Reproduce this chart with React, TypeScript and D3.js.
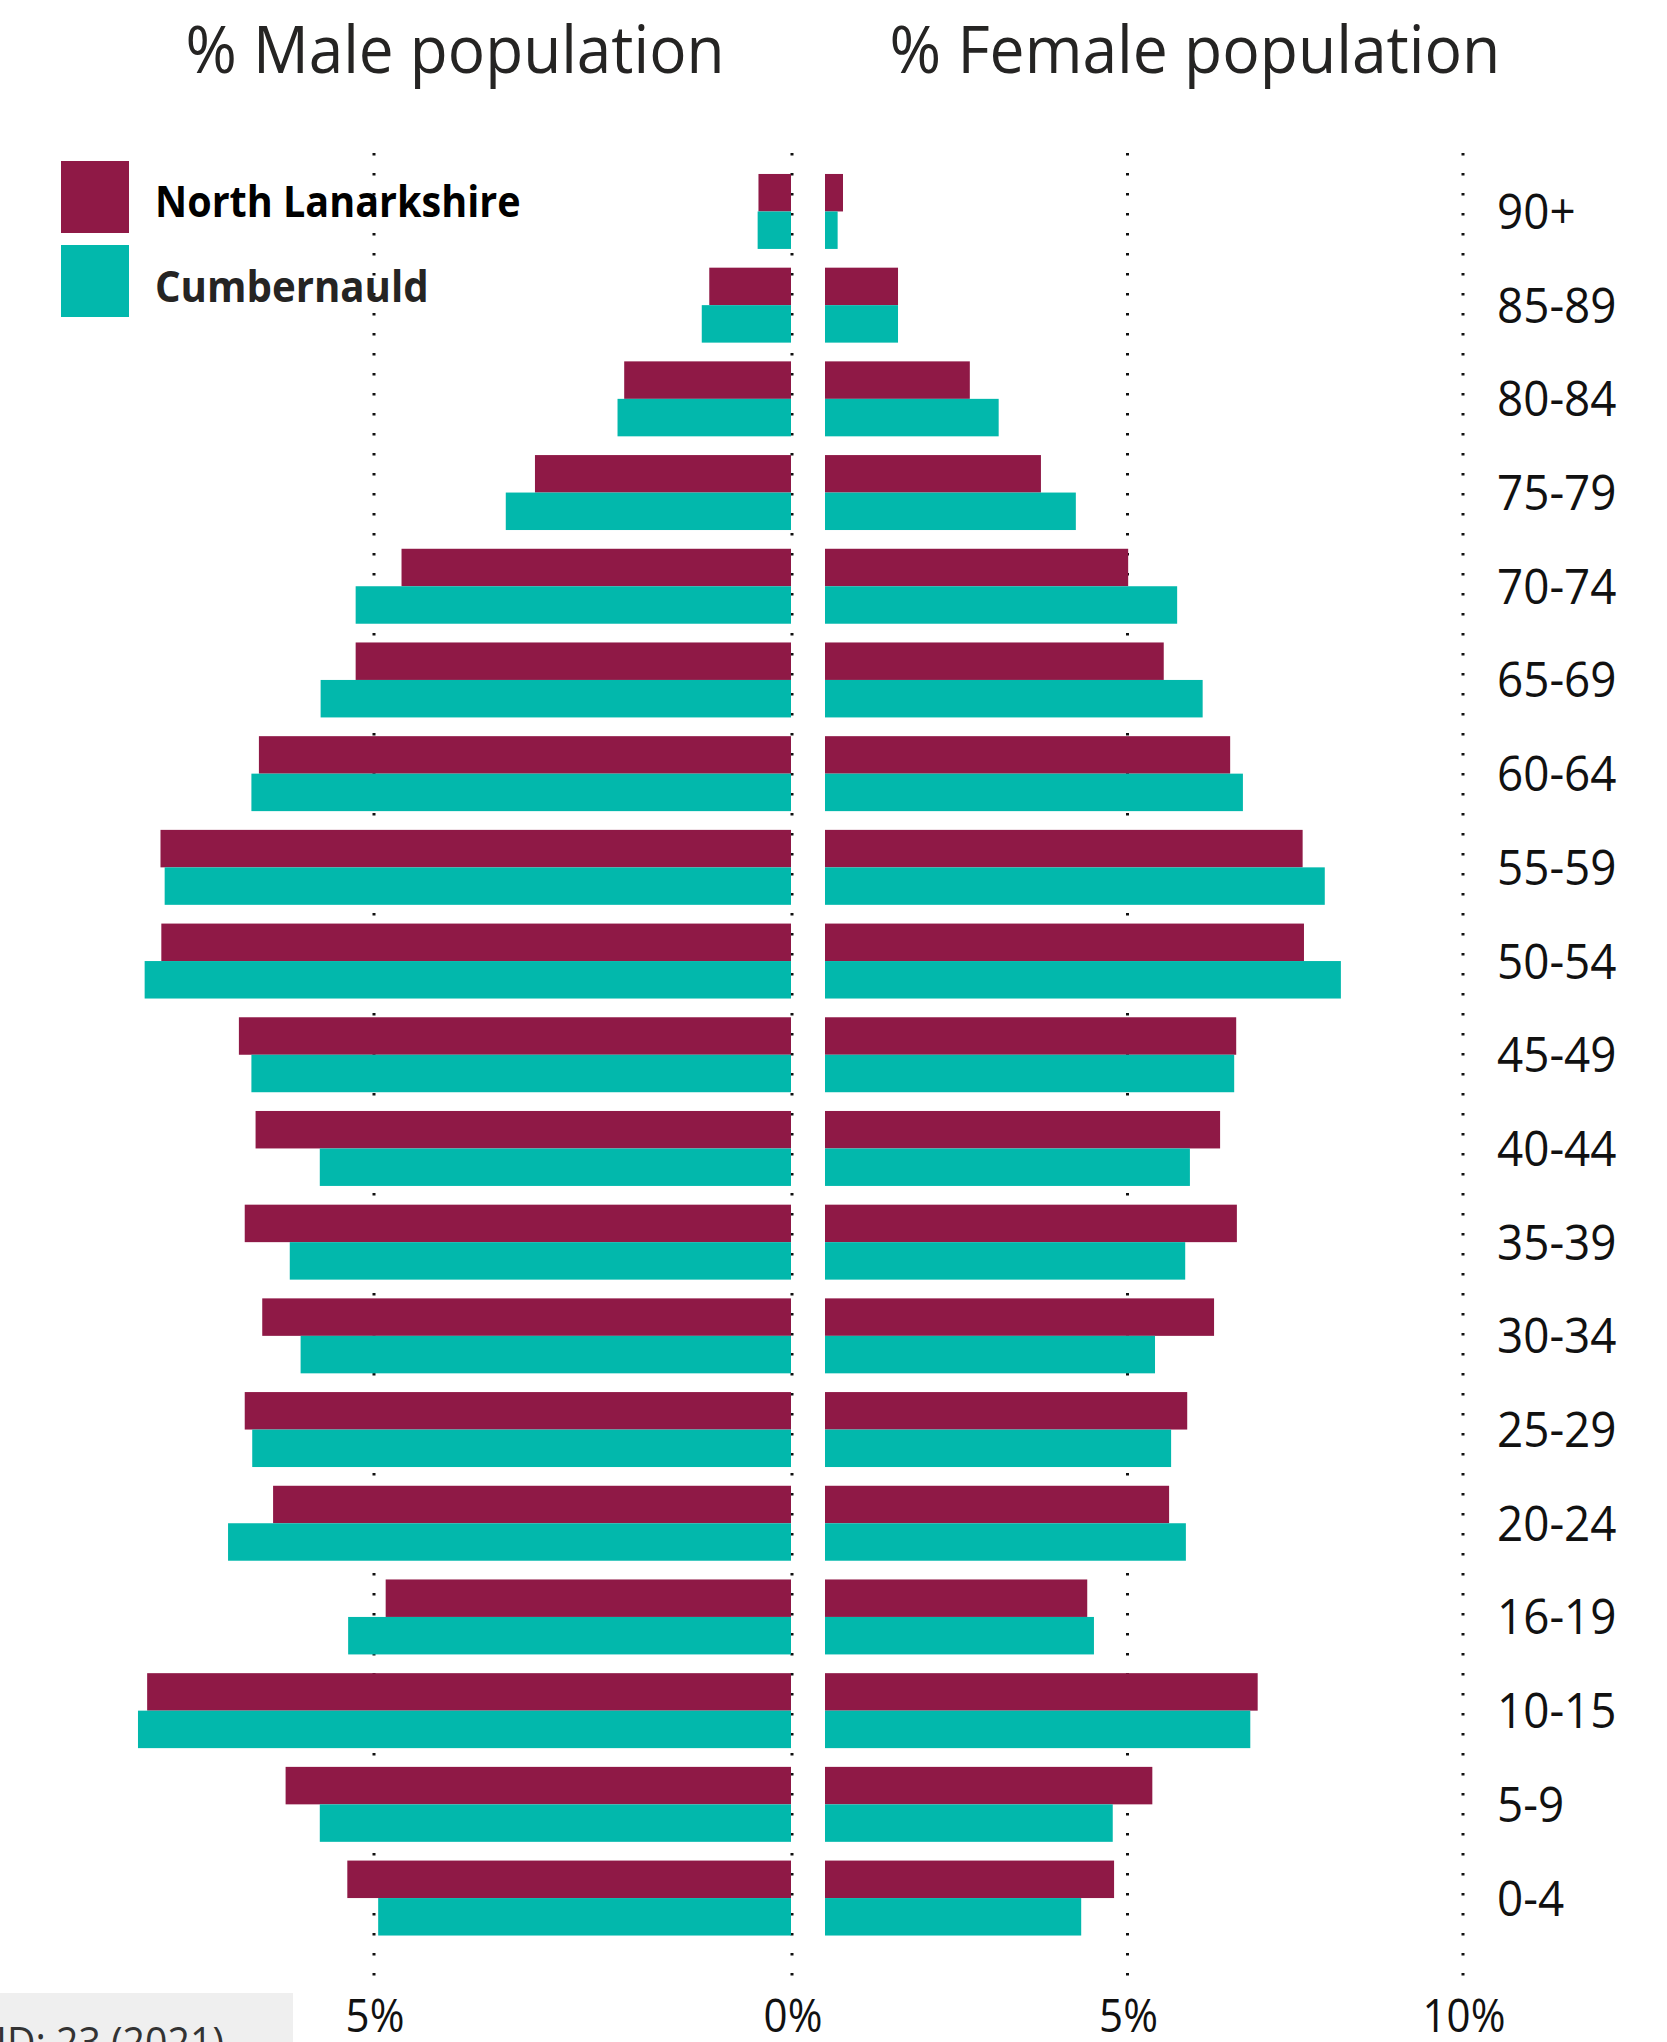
import React from 'react';
import * as d3 from 'd3';

// ---------- DATA ----------
const AGE_GROUPS = ['90+', '85-89', '80-84', '75-79', '70-74', '65-69', '60-64', '55-59', '50-54', '45-49', '40-44', '35-39', '30-34', '25-29', '20-24', '16-19', '10-15', '5-9', '0-4'];
const SERIES = ['North Lanarkshire', 'Cumbernauld'];
const MALE_NORTH_LANARKSHIRE = [0.39, 0.98, 2.0, 3.07, 4.67, 5.22, 6.38, 7.56, 7.55, 6.62, 6.42, 6.55, 6.34, 6.55, 6.21, 4.86, 7.72, 6.06, 5.32];
const MALE_CUMBERNAULD = [0.4, 1.07, 2.08, 3.42, 5.22, 5.64, 6.47, 7.51, 7.75, 6.47, 5.65, 6.01, 5.88, 6.46, 6.75, 5.31, 7.83, 5.65, 4.95];
const FEMALE_NORTH_LANARKSHIRE = [0.76, 1.58, 2.65, 3.71, 5.01, 5.54, 6.53, 7.61, 7.63, 6.62, 6.38, 6.63, 6.29, 5.89, 5.62, 4.4, 6.94, 5.37, 4.8];
const FEMALE_CUMBERNAULD = [0.68, 1.58, 3.08, 4.23, 5.74, 6.12, 6.72, 7.94, 8.18, 6.59, 5.93, 5.86, 5.41, 5.65, 5.87, 4.5, 6.83, 4.78, 4.31];
const MALE_TICKS = [5];
const FEMALE_TICKS = [0, 5, 10];
const TITLE_MALE = '% Male population';
const TITLE_FEMALE = '% Female population';
const FOOTER_TEXT = 'ID: 23 (2021)';

// ---------- STYLE / LAYOUT ----------
const W = 1667;
const H = 2042;
const COLORS = ['#8F1946', '#02B8AC'];
const FONT = "'Open Sans', 'Noto Sans', sans-serif";
const SX = 0.935; // horizontal glyph compression seen in the reference

const maleData = [MALE_NORTH_LANARKSHIRE, MALE_CUMBERNAULD];
const femaleData = [FEMALE_NORTH_LANARKSHIRE, FEMALE_CUMBERNAULD];

const xMale = d3.scaleLinear().domain([0, 5]).range([791, 374]);
const xFemale = d3.scaleLinear().domain([0, 10]).range([792, 1463]);
const FEMALE_BAR_START = 825;

const yBand = d3
  .scaleBand<string>()
  .domain(AGE_GROUPS)
  .range([164.6, 164.6 + 19 * 93.7])
  .paddingInner(0.2)
  .paddingOuter(0.1);
const ySub = d3.scaleBand<string>().domain(SERIES).range([0, yBand.bandwidth()]).padding(0);

const GRID_TOP = 153;
const GRID_BOTTOM = 1977;

function SText(props: {
  x: number;
  y: number;
  size: number;
  anchor?: string;
  weight?: number | string;
  fill?: string;
  sx?: number;
  children: React.ReactNode;
}) {
  const { x, y, size, anchor = 'start', weight = 400, fill = '#222', sx = SX, children } = props;
  return (
    <text
      transform={`translate(${x},${y}) scale(${sx},1)`}
      fontFamily={FONT}
      fontSize={size}
      fontWeight={weight}
      textAnchor={anchor}
      fill={fill}
    >
      {children}
    </text>
  );
}

export default function App() {
  const gridXs = [
    ...MALE_TICKS.map((t) => ({ x: xMale(t), label: `${t}%` })),
    ...FEMALE_TICKS.map((t) => ({ x: xFemale(t), label: `${t}%` })),
  ];

  return (
    <svg
      width={W}
      height={H}
      viewBox={`0 0 ${W} ${H}`}
      style={{ position: 'absolute', left: 0, top: 0, display: 'block', background: '#ffffff' }}
    >
      <rect x={0} y={0} width={W} height={H} fill="#ffffff" />

      {/* titles */}
      <SText x={455} y={72.7} size={65} anchor="middle" fill="#252423" sx={0.955}>
        {TITLE_MALE}
      </SText>
      <SText x={1195} y={72.7} size={65} anchor="middle" fill="#252423" sx={0.96}>
        {TITLE_FEMALE}
      </SText>

      {/* dotted gridlines */}
      {gridXs.map((g, i) => (
        <line
          key={'g' + i}
          x1={g.x}
          x2={g.x}
          y1={GRID_TOP}
          y2={GRID_BOTTOM}
          stroke="#111"
          strokeWidth={3}
          strokeDasharray="2.6 17.4"
        />
      ))}

      {/* male bars */}
      {maleData.map((vals, si) =>
        vals.map((v, i) => (
          <rect
            key={`m${si}-${i}`}
            x={xMale(v)}
            y={(yBand(AGE_GROUPS[i]) as number) + (ySub(SERIES[si]) as number)}
            width={xMale(0) - xMale(v)}
            height={ySub.bandwidth()}
            fill={COLORS[si]}
          />
        ))
      )}

      {/* female bars */}
      {femaleData.map((vals, si) =>
        vals.map((v, i) => (
          <rect
            key={`f${si}-${i}`}
            x={FEMALE_BAR_START}
            y={(yBand(AGE_GROUPS[i]) as number) + (ySub(SERIES[si]) as number)}
            width={Math.max(0, xFemale(v) - FEMALE_BAR_START)}
            height={ySub.bandwidth()}
            fill={COLORS[si]}
          />
        ))
      )}

      {/* age labels */}
      {AGE_GROUPS.map((a) => (
        <SText
          key={a}
          x={1497}
          y={(yBand(a) as number) + yBand.bandwidth() / 2 + 17.5}
          size={49}
          fill="#111"
        >
          {a}
        </SText>
      ))}

      {/* tick labels */}
      {gridXs.map((g, i) => (
        <SText key={'t' + i} x={g.x + 1} y={2032} size={45} anchor="middle" fill="#111">
          {g.label}
        </SText>
      ))}

      {/* legend */}
      {SERIES.map((s, i) => (
        <g key={s}>
          <rect x={61} y={161 + i * 84} width={68} height={72} fill={COLORS[i]} />
          <SText
            x={155}
            y={217.3 + i * 84.4}
            size={43}
            weight={700}
            sx={i === 0 ? 0.92 : 0.935}
            fill={i === 0 ? '#000' : '#252423'}
          >
            {s}
          </SText>
        </g>
      ))}

      {/* footer box (cut off in the reference) */}
      <rect x={0} y={1993} width={293} height={H - 1993} fill="#efefef" />
      <SText x={-4} y={2057} size={42} fill="#333">
        {FOOTER_TEXT}
      </SText>
    </svg>
  );
}
